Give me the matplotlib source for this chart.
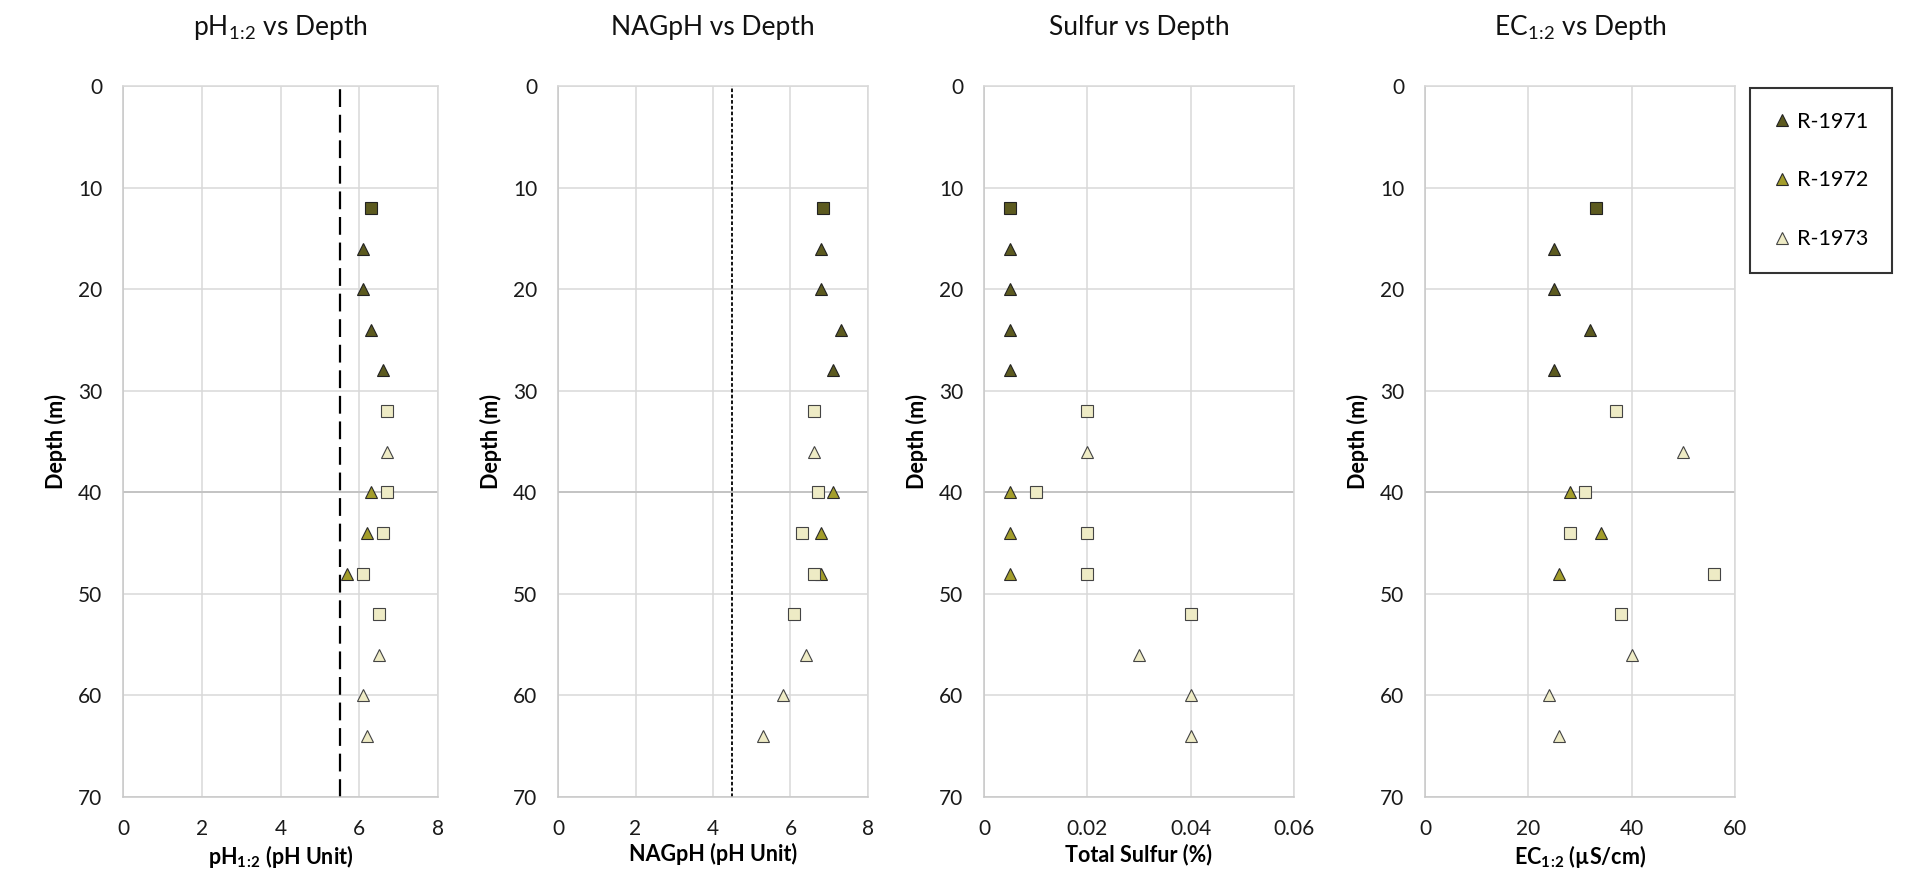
import matplotlib
matplotlib.use("Agg")
import matplotlib.pyplot as plt
from matplotlib.lines import Line2D

plt.rcParams['font.family'] = ['Lato', 'DejaVu Sans']
plt.rcParams['mathtext.fontset'] = 'custom'
plt.rcParams['mathtext.rm'] = 'Lato'
plt.rcParams['mathtext.bf'] = 'Lato:bold'

# depths (m) of each sample group
depth_1971_sq = [12]
depth_1971_tri = [16, 20, 24, 28]
depth_1972_tri = [40, 44, 48]
depth_1973_sq = [32, 40, 44, 48, 52]
depth_1973_tri = [36, 56, 60, 64]

# pH 1:2
ph_1971_sq = [6.3]
ph_1971_tri = [6.1, 6.1, 6.3, 6.6]
ph_1972_tri = [6.3, 6.2, 5.7]
ph_1973_sq = [6.7, 6.7, 6.6, 6.1, 6.5]
ph_1973_tri = [6.7, 6.5, 6.1, 6.2]

# NAG pH
nag_1971_sq = [6.85]
nag_1971_tri = [6.8, 6.8, 7.3, 7.1]
nag_1972_tri = [7.1, 6.8, 6.8]
nag_1973_sq = [6.6, 6.7, 6.3, 6.6, 6.1]
nag_1973_tri = [6.6, 6.4, 5.8, 5.3]

# total sulfur (%)
s_1971_sq = [0.005]
s_1971_tri = [0.005, 0.005, 0.005, 0.005]
s_1972_tri = [0.005, 0.005, 0.005]
s_1973_sq = [0.02, 0.01, 0.02, 0.02, 0.04]
s_1973_tri = [0.02, 0.03, 0.04, 0.04]

# EC 1:2 (uS/cm)
ec_1971_sq = [33]
ec_1971_tri = [25, 25, 32, 25]
ec_1972_tri = [28, 34, 26]
ec_1973_sq = [37, 31, 28, 56, 38]
ec_1973_tri = [50, 40, 24, 26]

series_names = ['R-1971', 'R-1972', 'R-1973']
colors = {'R-1971': '#5c5a1f', 'R-1972': '#a39d2b', 'R-1973': '#eeebc5'}
edges = {'R-1971': '#222222', 'R-1972': '#2a2a2a', 'R-1973': '#444444'}

ph_limit = 5.5
nag_limit = 4.5

W, H = 1923, 869
fig = plt.figure(figsize=(W / 100, H / 100), dpi=100)

def ax_at(left, width):
    return fig.add_axes([left / W, 1 - 797 / H, width / W, (797 - 86) / H])

# ':' is spaced as a relation in mathtext, pull it back in a bit
sub12 = r'1\!:\!2'
panels = [
    (ax_at(123, 315), r'pH$_{%s}$ vs Depth' % sub12, r'pH$_{\mathbf{%s}}$ (pH Unit)' % sub12,
     (ph_1971_sq, ph_1971_tri, ph_1972_tri, ph_1973_sq, ph_1973_tri),
     [0, 2, 4, 6, 8], ['0', '2', '4', '6', '8']),
    (ax_at(558, 310), 'NAGpH vs Depth', 'NAGpH (pH Unit)',
     (nag_1971_sq, nag_1971_tri, nag_1972_tri, nag_1973_sq, nag_1973_tri),
     [0, 2, 4, 6, 8], ['0', '2', '4', '6', '8']),
    (ax_at(984, 310), 'Sulfur vs Depth', 'Total Sulfur (%)',
     (s_1971_sq, s_1971_tri, s_1972_tri, s_1973_sq, s_1973_tri),
     [0, 0.02, 0.04, 0.06], ['0', '0.02', '0.04', '0.06']),
    (ax_at(1425, 310), r'EC$_{%s}$ vs Depth' % sub12, r'EC$_{\mathbf{%s}}$ (µS/cm)' % sub12,
     (ec_1971_sq, ec_1971_tri, ec_1972_tri, ec_1973_sq, ec_1973_tri),
     [0, 20, 40, 60], ['0', '20', '40', '60']),
]

grid_c = '#d9d9d9'
for ax, title, xlabel, vals, xt, xtl in panels:
    v71s, v71t, v72t, v73s, v73t = vals
    ax.set_xlim(xt[0], xt[-1])
    ax.set_ylim(70, 0)
    ax.set_xticks(xt)
    ax.set_xticklabels(xtl)
    ax.set_yticks(range(0, 71, 10))
    ax.grid(True, color=grid_c, linewidth=1.1, zorder=0)
    ax.set_axisbelow(True)
    ax.axhline(40, color='#bfbfbf', linewidth=1.2, zorder=1)
    for sp in ax.spines.values():
        sp.set_color(grid_c)
        sp.set_linewidth(1.1)
    ax.spines['left'].set_color('#c8c8c8')
    ax.spines['bottom'].set_color('#c8c8c8')
    ax.tick_params(length=0, labelsize=15, colors='#1a1a1a')
    ax.tick_params(axis='x', pad=16)
    ax.tick_params(axis='y', pad=15)

    kw = dict(linestyle='none', markeredgewidth=0.8, zorder=3, clip_on=False)
    ax.plot(v71s, depth_1971_sq, marker='s', markersize=8, color=colors['R-1971'],
            markeredgecolor=edges['R-1971'], **kw)
    ax.plot(v71t, depth_1971_tri, marker='^', markersize=9, color=colors['R-1971'],
            markeredgecolor=edges['R-1971'], **kw)
    ax.plot(v72t, depth_1972_tri, marker='^', markersize=9, color=colors['R-1972'],
            markeredgecolor=edges['R-1972'], **kw)
    ax.plot(v73s, depth_1973_sq, marker='s', markersize=8, color=colors['R-1973'],
            markeredgecolor=edges['R-1973'], **kw)
    ax.plot(v73t, depth_1973_tri, marker='^', markersize=9, color=colors['R-1973'],
            markeredgecolor=edges['R-1973'], **kw)

    ax.set_title(title, fontsize=19, pad=37, color='#111111')
    ax.set_xlabel(xlabel, fontsize=15.5, fontweight='bold', labelpad=3)
    ax.set_ylabel('Depth (m)', fontsize=15.5, fontweight='bold', labelpad=8)

panels[0][0].axvline(ph_limit, color='black', linewidth=1.6, dashes=(8, 3.5), zorder=2)
panels[1][0].axvline(nag_limit, color='black', linewidth=1.3, dashes=(2, 1.2), zorder=2)

handles = [Line2D([], [], linestyle='none', marker='^', markersize=9,
                  color=colors[n], markeredgecolor=edges[n], markeredgewidth=0.8)
           for n in series_names]
leg = fig.legend(handles, series_names, loc='upper left',
                 bbox_to_anchor=(1750 / W, 1 - 88 / H), borderaxespad=0,
                 fontsize=15.5, frameon=True, fancybox=False, edgecolor='black',
                 labelspacing=1.8, borderpad=1.1, handlelength=0.8,
                 handletextpad=0.3)
leg.get_frame().set_linewidth(1.5)

fig.savefig('out.png', dpi=100)
